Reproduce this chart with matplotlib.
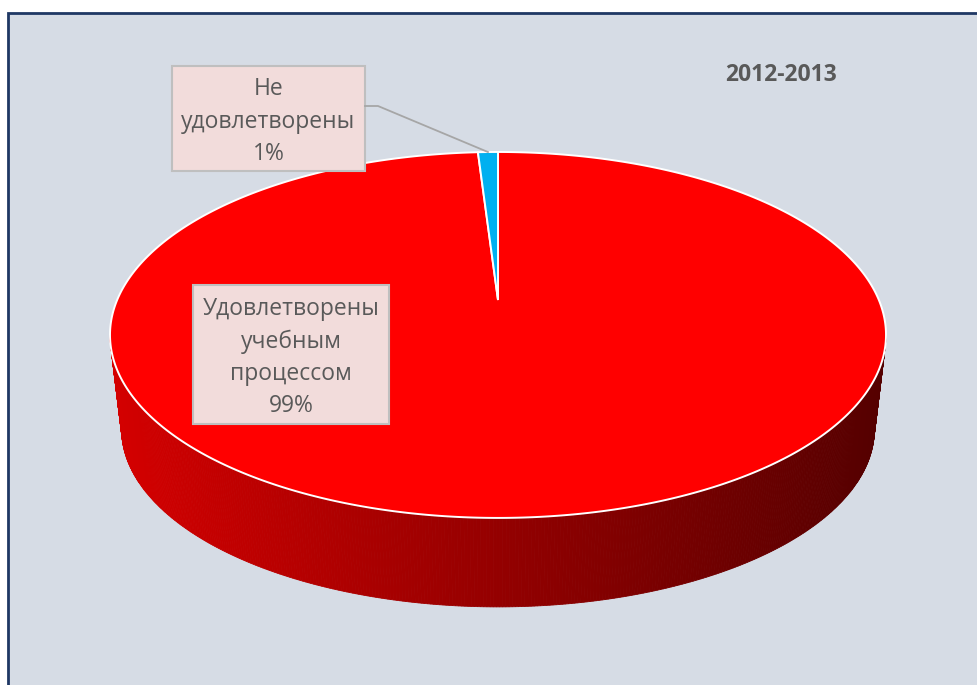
import numpy as np
import matplotlib.pyplot as plt
from matplotlib.patches import Rectangle, Polygon

# данные
labels = ['Удовлетворены\nучебным\nпроцессом', 'Не\nудовлетворены']
values = [99, 1]
colors = ['#FF0000', '#00B0F0']
title = '2012-2013'

plt.rcParams['font.family'] = ['Open Sans', 'DejaVu Sans']

fig = plt.figure(figsize=(9.77, 6.85), dpi=100)
ax = fig.add_axes([0, 0, 1, 1])
ax.set_xlim(0, 977)
ax.set_ylim(685, 0)
ax.axis('off')

# фон области диаграммы
ax.add_patch(Rectangle((8, 13), 990, 700, fc='#D6DCE5', ec='#1F3864', lw=2, zorder=0))

# геометрия "3D" круга с перспективой
ox, oy = 498, 300        # проекция центра круга
k = 0.191                # сила перспективы
sx = 388 * np.sqrt(1 - k ** 2)
sy = 176.3
depth, shrink = 95.5, 0.97

def rim(phi, bottom=False):
    t = np.radians(phi)
    X, Y = np.cos(t), np.sin(t)
    x = sx * X / (1 + k * Y)
    y = -sy * Y / (1 + k * Y)
    if bottom:
        return ox + shrink * x, oy + depth + shrink * y
    return ox + x, oy + y

# углы секторов: от 12 часов по часовой стрелке
fracs = np.array(values) / sum(values)
starts = 90 - 360 * np.concatenate([[0], np.cumsum(fracs)[:-1]])
ends = starts - 360 * fracs

# боковая стенка (передняя половина), градиент слева направо
side_left = np.array([0xD4, 0, 0]) / 255
side_right = np.array([0x55, 0, 0]) / 255
edge = np.degrees(np.arcsin(k))
th = np.linspace(180 + edge, 360 - edge, 400)
for t0, t1 in zip(th[:-1], th[1:]):
    x0, y0 = rim(t0)
    x1, y1 = rim(t1)
    x2, y2 = rim(t1, bottom=True)
    x3, y3 = rim(t0, bottom=True)
    f = ((x0 + x1) / 2 - (ox - 388)) / (2 * 388)
    c = side_left * (1 - f) + side_right * f
    ax.add_patch(Polygon([(x0, y0), (x1, y1), (x2, y2), (x3, y3)],
                         closed=True, fc=c, ec=c, lw=0.6, zorder=1))

# верхняя грань
for s, e, col in zip(starts, ends, colors):
    ts = np.linspace(s, e, max(3, int(abs(s - e) * 3)))
    pts = [(ox, oy)] + [rim(t) for t in ts]
    ax.add_patch(Polygon(pts, closed=True, fc=col, ec='white', lw=1.4, zorder=2))

# подписи данных
boxes = [(193, 285, 196, 139), (172, 66, 193, 105)]
for (bx, by, bw, bh), lab, v in zip(boxes, labels, values):
    ax.add_patch(Rectangle((bx, by), bw, bh, fc='#F2DCDB', ec='#BFBFBF', lw=1.5, zorder=3))
    ax.text(bx + bw / 2, by + bh / 2 + 3, f'{lab}\n{v}%', ha='center', va='center',
            fontsize=16.5, color='#595959', linespacing=1.47, zorder=4)

# линия выноски к малому сектору
mid = (starts[1] + ends[1]) / 2
mx, my = rim(mid)
ax.plot([365, 378, mx], [106, 106, my], color='#A6A6A6', lw=1.3, zorder=3)

ax.text(781, 75, title, ha='center', va='center', fontsize=16.5, fontweight='bold',
        color='#595959', zorder=4)

fig.savefig('out.png', dpi=100)
